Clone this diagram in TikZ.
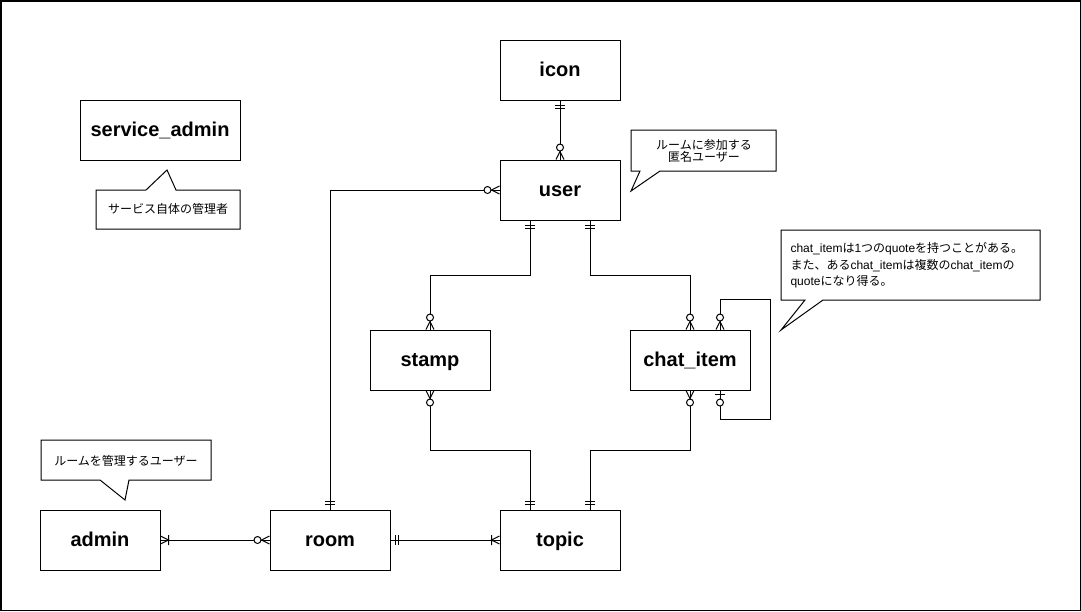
\documentclass[tikz,border=0pt]{standalone}
\usepackage{fontspec}
\setmainfont{Liberation Sans}
\newfontfamily\jp{Noto Sans CJK JP}
\usetikzlibrary{calc}

\tikzset{
	entity/.style={draw, minimum width=120pt, minimum height=60pt, inner sep=0pt,
		text height=18.1pt, text depth=4.2pt,
		font=\bfseries\fontsize{20}{24}\selectfont},
	note/.style={inner sep=0pt, align=center, font=\fontsize{12}{16.5}\selectfont},
	callout/.style={draw, fill=white, line join=miter},
	% crow's foot ends, drawn pointing away from the entity
	pics/onlyone/.style={code={\draw (5,-5) -- (5,5) (8,-5) -- (8,5);}},
	pics/zeromany/.style={code={\draw (0,-4) -- (8,0) -- (0,4);
			\draw[fill=white] (12,0) circle[radius=3.5pt];}},
	pics/onemany/.style={code={\draw (0,-4) -- (8,0) -- (0,4) (8,-5) -- (8,5);}},
	pics/zeroone/.style={code={\draw (4,-5) -- (4,5);
			\draw[fill=white] (12,0) circle[radius=3.5pt];}},
}

\begin{document}
\begin{tikzpicture}[x=1pt, y=-1pt, line width=1pt]
		\useasboundingbox (0,0) rectangle (1081,611);
		\draw[line width=1.5pt] (0.75,0.75) rectangle (1080.25,610.25);
		
		% entities
		\node[entity] (icon) at (560,70) {icon};
		\node[entity, minimum width=160pt] (svcadmin) at (160,130) {service\_admin};
		\node[entity] (user) at (560,190) {user};
		\node[entity] (stamp) at (430,360) {stamp};
		\node[entity] (chatitem) at (690,360) {chat\_item};
		\node[entity] (admin) at (100,540) {admin};
		\node[entity] (room) at (330,540) {room};
		\node[entity] (topic) at (560,540) {topic};
		
		% relations
		\draw (icon.south) -- (user.north);
		\draw (user.west) -| (room.north);
		\draw ($(user.south)+(-30,0)$) -- ++(0,55) -| (stamp.north);
		\draw ($(user.south)+(30,0)$) -- ++(0,55) -| (chatitem.north);
		\draw ($(chatitem.north)+(30,0)$) -- ++(0,-30) -- ++(50,0) -- ++(0,120)
		-- ++(-50,0) -- ($(chatitem.south)+(30,0)$);
		\draw (stamp.south) -- ++(0,60) -| ($(topic.north)+(-30,0)$);
		\draw (chatitem.south) -- ++(0,60) -| ($(topic.north)+(30,0)$);
		\draw (admin.east) -- (room.west);
		\draw (room.east) -- (topic.west);
		
		% line ends
		\pic[rotate=-90] at (icon.south) {onlyone};
		\pic[rotate=90] at (user.north) {zeromany};
		\pic[rotate=180] at (user.west) {zeromany};
		\pic[rotate=90] at (room.north) {onlyone};
		\pic[rotate=-90] at ($(user.south)+(-30,0)$) {onlyone};
		\pic[rotate=-90] at ($(user.south)+(30,0)$) {onlyone};
		\pic[rotate=90] at (stamp.north) {zeromany};
		\pic[rotate=90] at (chatitem.north) {zeromany};
		\pic[rotate=90] at ($(chatitem.north)+(30,0)$) {zeromany};
		\pic[rotate=-90] at (chatitem.south) {zeromany};
		\pic[rotate=-90] at ($(chatitem.south)+(30,0)$) {zeroone};
		\pic[rotate=-90] at (stamp.south) {zeromany};
		\pic[rotate=90] at ($(topic.north)+(-30,0)$) {onlyone};
		\pic[rotate=90] at ($(topic.north)+(30,0)$) {onlyone};
		\pic at (admin.east) {onemany};
		\pic[rotate=180] at (room.west) {zeromany};
		\pic at (room.east) {onlyone};
		\pic[rotate=180] at (topic.west) {onemany};
		
		% callouts
		\draw[callout] (96,190) -- (146,190) -- (167,170) -- (176,190) -- (240,190)
		-- (240,229) -- (96,229) -- cycle;
		\node[note] (svcnote) at (168,209) {\jp サービス自体の管理者};
		
		\draw[callout] (631,130) -- (776,130) -- (776,171) -- (660,171) -- (631,191)
		-- (640,171) -- (631,171) -- cycle;
		\node[note, font=\fontsize{12}{12}\selectfont] (usernote) at (704,150.5)
		{\jp ルームに参加する\\\jp 匿名ユーザー};
		
		\draw[callout] (781,230) -- (1040,230) -- (1040,300) -- (823,300) -- (781,330)
		-- (805,300) -- (781,300) -- cycle;
		\node[note, align=left, anchor=west] (chatnote) at (790,265.5)
		{chat\_item{\jp は}1{\jp つの}quote{\jp を持つことがある。}\\
			{\jp また、ある}chat\_item{\jp は複数の}chat\_item{\jp の}\\
			quote{\jp になり得る。}};
		
		\draw[callout] (41,440) -- (211,440) -- (211,480) -- (129,480) -- (125,500)
		-- (100,480) -- (41,480) -- cycle;
		\node[note] (adminnote) at (126,461) {\jp ルームを管理するユーザー};
	\end{tikzpicture}
\end{document}
